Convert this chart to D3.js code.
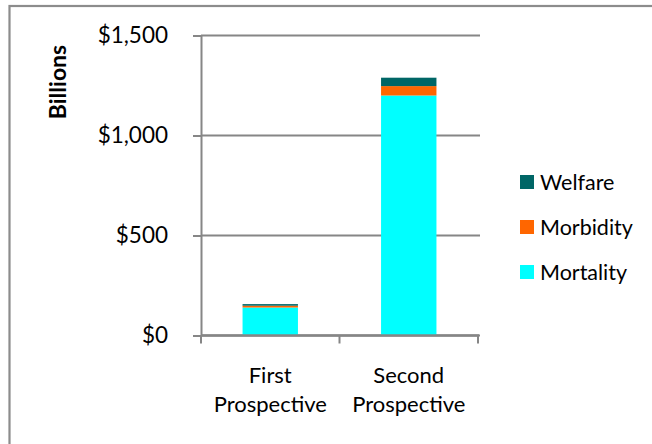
<!DOCTYPE html>
<html>
<head>
<meta charset="utf-8">
<script src="https://cdn.jsdelivr.net/npm/d3@7"></script>
<style>
body { margin: 0; background: #fff; }
text { font-family: Lato, "Open Sans", sans-serif; fill: #000; }
</style>
</head>
<body>
<svg id="chart" width="652" height="444"></svg>
<script>

// data (billions of dollars)
var categories = ['First Prospective', 'Second Prospective'];
var mortality = [140, 1200];
var morbidity = [9, 47];
var welfare = [8, 42];
var seriesNames = ['Mortality', 'Morbidity', 'Welfare'];
var seriesColors = ['#00ffff', '#ff6600', '#006666'];
var yTicks = [0, 500, 1000, 1500];

var svg = d3.select('#chart');
var plotLeft = 201, plotRight = 478, plotTop = 35.5, plotBottom = 335.5;
var grey = '#868686';

// outer chart border (runs off right and bottom edge)
svg.append('rect')
	.attr('x', 9.5).attr('y', 6)
	.attr('width', 660).attr('height', 460)
	.attr('fill', 'none')
	.attr('stroke', '#8c8c8c')
	.attr('stroke-width', 2.2);

var x = d3.scaleBand()
	.domain(categories)
	.range([plotLeft, plotRight])
	.paddingInner(0.6)
	.paddingOuter(0.3);

var y = d3.scaleLinear()
	.domain([0, 1500])
	.range([plotBottom, plotTop]);

// gridlines
svg.append('g').selectAll('line')
	.data(yTicks)
	.enter().append('line')
	.attr('x1', plotLeft).attr('x2', plotRight + 2)
	.attr('y1', function(d){ return y(d); })
	.attr('y2', function(d){ return y(d); })
	.attr('stroke', grey)
	.attr('stroke-width', 2);

// stacked bars
var rows = categories.map(function(c, i){
	return { cat: c, Mortality: mortality[i], Morbidity: morbidity[i], Welfare: welfare[i] };
});
var stack = d3.stack().keys(seriesNames)(rows);

svg.append('g').selectAll('g')
	.data(stack)
	.enter().append('g')
	.attr('fill', function(d, i){ return seriesColors[i]; })
	.selectAll('rect')
	.data(function(d){ return d; })
	.enter().append('rect')
	.attr('x', function(d){ return x(d.data.cat); })
	.attr('width', x.bandwidth())
	.attr('y', function(d){ return y(d[1]); })
	.attr('height', function(d){ return y(d[0]) - y(d[1]); });

// y axis
var yAxis = svg.append('g')
	.attr('transform', 'translate(' + plotLeft + ',0)')
	.call(d3.axisLeft(y)
		.tickValues(yTicks)
		.tickSize(8)
		.tickSizeOuter(0)
		.tickPadding(25)
		.tickFormat(function(d){ return '$' + d3.format(',')(d); }));
yAxis.select('.domain').attr('stroke', grey).attr('stroke-width', 2);
yAxis.selectAll('.tick line').attr('stroke', grey).attr('stroke-width', 2);
yAxis.selectAll('.tick text')
	.attr('font-size', 22.5)
	.attr('font-family', 'Lato, sans-serif')
	.attr('fill', '#000');

// x axis line and boundary ticks
svg.append('line')
	.attr('x1', plotLeft).attr('x2', plotRight + 1)
	.attr('y1', plotBottom).attr('y2', plotBottom)
	.attr('stroke', grey).attr('stroke-width', 2.5);

var bounds = [plotLeft].concat(categories.map(function(c){ return x(c) + x.bandwidth() / 2 + x.step() / 2; }));
svg.append('g').selectAll('line')
	.data(bounds)
	.enter().append('line')
	.attr('x1', function(d){ return d; })
	.attr('x2', function(d){ return d; })
	.attr('y1', plotBottom).attr('y2', plotBottom + 8)
	.attr('stroke', grey).attr('stroke-width', 2);

// category labels, two lines
var catLabels = svg.append('g').selectAll('text')
	.data(categories)
	.enter().append('text')
	.attr('text-anchor', 'middle')
	.attr('font-size', 22)
	.attr('x', function(d){ return x(d) + x.bandwidth() / 2; })
	.attr('y', 383);
catLabels.append('tspan')
	.attr('x', function(d){ return x(d) + x.bandwidth() / 2; })
	.text(function(d){ return d.split(' ')[0]; });
catLabels.append('tspan')
	.attr('x', function(d){ return x(d) + x.bandwidth() / 2; })
	.attr('dy', 29)
	.text(function(d){ return d.split(' ')[1]; });

// y axis title
svg.append('text')
	.attr('transform', 'translate(66,82) rotate(-90)')
	.attr('text-anchor', 'middle')
	.attr('font-size', 23)
	.attr('font-weight', 'bold')
	.text('Billions');

// legend (top to bottom: Welfare, Morbidity, Mortality)
var legendOrder = seriesNames.slice().reverse();
var legend = svg.append('g').selectAll('g')
	.data(legendOrder)
	.enter().append('g')
	.attr('transform', function(d, i){ return 'translate(520,' + (175 + i * 45) + ')'; });
legend.append('rect')
	.attr('width', 14).attr('height', 14)
	.attr('fill', function(d){ return seriesColors[seriesNames.indexOf(d)]; });
legend.append('text')
	.attr('x', 20).attr('y', 14.5)
	.attr('font-size', 21.5)
	.text(function(d){ return d; });

</script>
</body>
</html>
